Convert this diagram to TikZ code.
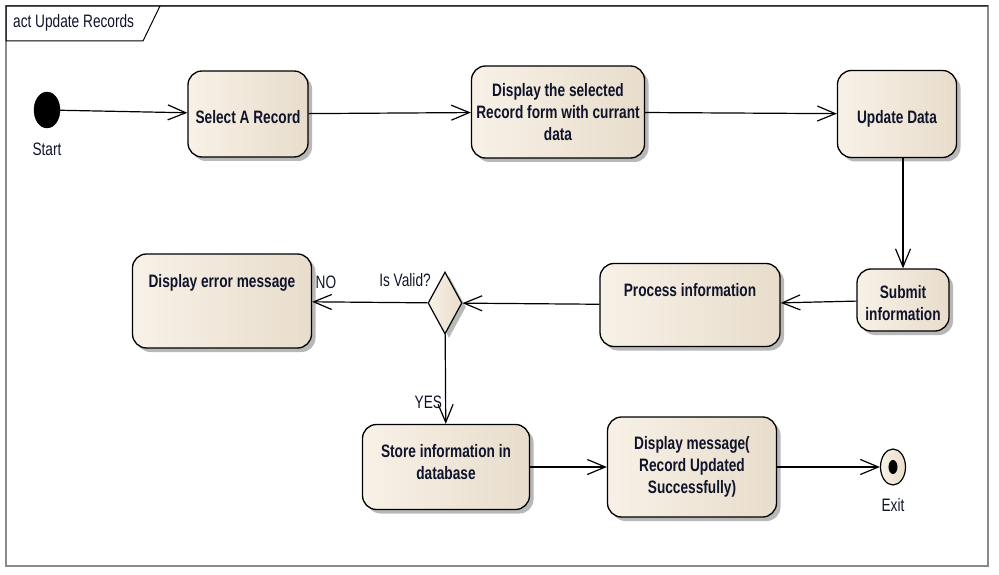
\documentclass[tikz,border=0pt]{standalone}
\usepackage{fontspec}
\setmainfont{Liberation Sans}[FakeStretch=0.76]
\usepackage{tikz}
\usetikzlibrary{shapes.geometric,shadows,arrows.meta}

\definecolor{boxleft}{HTML}{F8F1E7}
\definecolor{boxright}{HTML}{E8DDCC}
\definecolor{inktext}{HTML}{10142A}
\definecolor{framegray}{HTML}{8A8A8A}

\tikzset{
	activity/.style={shape=rectangle,rounded corners=14pt,draw=black,line width=1.3pt,
		left color=boxleft,right color=boxright,
		drop shadow={shadow xshift=4pt,shadow yshift=-4pt,fill=black!28,opacity=1},
		font=\bfseries\fontsize{18}{22}\selectfont,text=inktext,align=center,inner sep=2pt},
	decision/.style={shape=diamond,draw=black,line width=1.2pt,inner sep=0pt,
		left color=boxleft,right color=boxright,minimum width=34pt,minimum height=62pt,
		drop shadow={shadow xshift=4pt,shadow yshift=-4pt,fill=black!28,opacity=1}},
	flow/.style={draw=black,line width=1.2pt,-{Straight Barb[length=18pt,width=15pt,line width=1.2pt]}},
	plain/.style={font=\fontsize{18}{22}\selectfont,text=inktext,inner sep=1pt}
}

\begin{document}
\begin{tikzpicture}[x=1pt,y=-1pt]
	\useasboundingbox (0,0) rectangle (999,575);

	\draw[framegray,line width=1.2pt] (6,6) rectangle (988,566);
	\draw[black,line width=1pt] (988,6) -- (6,6) -- (6,41) -- (143,41) -- (160,6);
	\node[plain,anchor=west] (title) at (12,23) {act Update Records};

	\node[shape=ellipse,fill=black,draw=black,minimum width=26pt,minimum height=36pt,inner sep=0pt] (start) at (47,110) {};
	\node[plain] (startlbl) at (47,149) {Start};

	\node[activity,minimum width=120pt,minimum height=86pt,text height=19pt,text depth=0pt] (select) at (248,114) {Select A Record};
	\node[activity,minimum width=173pt,minimum height=92pt] (display) at (558,112) {Display the selected\\Record form with currant\\data};
	\node[activity,minimum width=119pt,minimum height=87pt,text height=19pt,text depth=0pt] (update) at (897,114) {Update Data};
	\node[activity,minimum width=92pt,minimum height=62pt,text height=41pt] (submit) at (903,300) {Submit\\information};
	\node[activity,minimum width=180pt,minimum height=83pt,text depth=31pt] (process) at (690,305) {Process information};
	\node[decision] (valid) at (445,303) {};
	\node[plain] (validlbl) at (405,280) {Is Valid?};
	\node[activity,minimum width=179pt,minimum height=94pt,text depth=41pt] (error) at (222,301) {Display error message};
	\node[activity,minimum width=167pt,minimum height=85pt,text depth=10pt] (store) at (446,467) {Store information in\\database};
	\node[activity,minimum width=169pt,minimum height=100pt] (showmsg) at (692,467) {Display message(\\Record Updated\\Successfully)};

	\node[shape=ellipse,draw=black,line width=1.2pt,left color=boxleft,right color=boxright,minimum width=25pt,minimum height=36pt,inner sep=0pt] (exit) at (893,467) {};
	\node[shape=ellipse,fill=black,minimum width=9pt,minimum height=14pt,inner sep=0pt] (exitdot) at (exit) {};
	\node[plain] (exitlbl) at (893,505) {Exit};

	\path[flow] (start) edge (select);
	\path[flow] (select) edge (display);
	\path[flow] (display) edge (update);
	\draw[flow] (update.south -| submit.north) -- (submit.north);
	\path[flow] (submit) edge (process);
	\path[flow] (process) edge (valid);
	\path[flow] (valid) edge node[plain,pos=0.88,above=12pt]{NO} (error);
	\path[flow] (valid) edge node[plain,pos=0.76,left=2pt]{YES} (store);
	\path[flow] (store) edge (showmsg);
	\path[flow] (showmsg) edge (exit);

\end{tikzpicture}
\end{document}
